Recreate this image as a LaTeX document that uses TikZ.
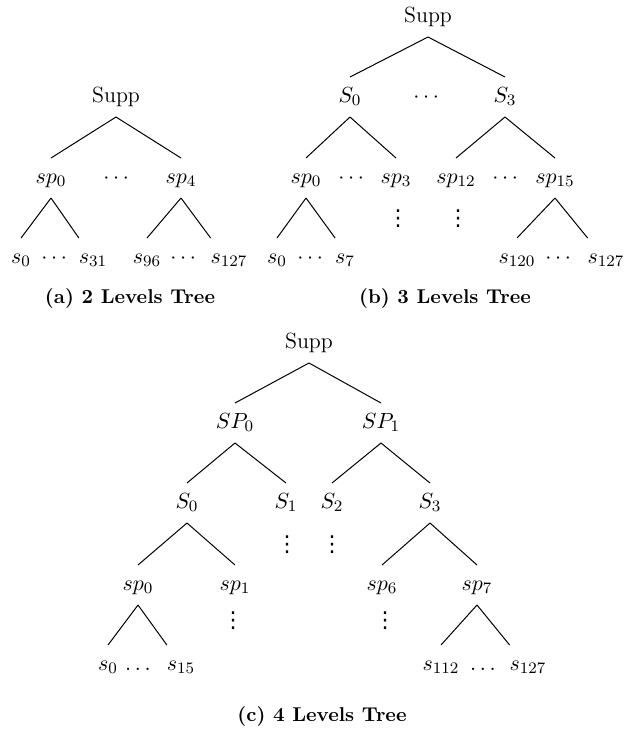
\documentclass[tikz,border=0pt]{standalone}
\usepackage{amsmath}
\usepackage{fontspec}
\usepackage{tikz}

\newfontfamily\symfont{DejaVu Sans}

\begin{document}
\begin{tikzpicture}[x=0.5pt,y=-0.5pt,
        every node/.style={font=\fontsize{11}{13}\selectfont},
        tn/.style={inner xsep=0pt,inner ysep=4.5pt,outer sep=0pt,text height=8pt,text depth=3pt},
        vd/.style={inner sep=0pt,font=\symfont\fontsize{11}{11}\selectfont},
        caption/.style={font=\fontsize{10}{12}\selectfont\bfseries},
        every edge/.style={draw,line width=0.5pt}]
    \useasboundingbox (0,0) rectangle (634,730);

    % (a) two levels
    \node[tn] (suppA)  at (116,97)  {Supp};
    \node[tn] (spA0)   at (51,178)  {$sp_0$};
    \node[tn] (dotsA1) at (118,178) {$\cdots$};
    \node[tn] (spA4)   at (181,178) {$sp_4$};
    \node[tn] (sA0)    at (21,258)  {$s_0$};
    \node[tn] (dotsA2) at (56,258)  {$\cdots$};
    \node[tn] (sA31)   at (93,258)  {$s_{31}$};
    \node[tn] (sA96)   at (147,258) {$s_{96}$};
    \node[tn] (dotsA3) at (185,258) {$\cdots$};
    \node[tn] (sA127)  at (229,258) {$s_{127}$};
    \node[caption] (capA) at (130,298) {(a) 2 Levels Tree};

    \path (suppA.south) edge (spA0.north) edge (spA4.north)
          (spA0.south)  edge (sA0.north)  edge (sA31.north west)
          (spA4.south)  edge (sA96.north) edge (sA127.north west);

    % (b) three levels
    \node[tn] (suppB)   at (428,17)  {Supp};
    \node[tn] (SB0)     at (350,97)  {$S_0$};
    \node[tn] (dotsB1)  at (428,97)  {$\cdots$};
    \node[tn] (SB3)     at (505,97)  {$S_3$};
    \node[tn] (spB0)    at (306,178) {$sp_0$};
    \node[tn] (dotsB2)  at (353,178) {$\cdots$};
    \node[tn] (spB3)    at (396,178) {$sp_3$};
    \node[tn] (spB12)   at (456,178) {$sp_{12}$};
    \node[tn] (dotsB3)  at (507,178) {$\cdots$};
    \node[tn] (spB15)   at (555,178) {$sp_{15}$};
    \node[vd] (vdB3)    at (398,219) {⋮};
    \node[vd] (vdB12)   at (458,219) {⋮};
    \node[tn] (sB0)     at (277,258) {$s_0$};
    \node[tn] (dotsB4)  at (312,258) {$\cdots$};
    \node[tn] (sB7)     at (345,258) {$s_7$};
    \node[tn] (sB120)   at (517,258) {$s_{120}$};
    \node[tn] (dotsB5)  at (560,258) {$\cdots$};
    \node[tn] (sB127)   at (606,258) {$s_{127}$};
    \node[caption] (capB) at (445,298) {(b) 3 Levels Tree};

    \path (suppB.south) edge (SB0.north)   edge (SB3.north)
          (SB0.south)   edge (spB0.north)  edge (spB3.north)
          (SB3.south)   edge (spB12.north) edge (spB15.north)
          (spB0.south)  edge (sB0.north)   edge (sB7.north west)
          (spB15.south) edge (sB120.north) edge (sB127.north west);

    % (c) four levels
    \node[tn] (suppC)  at (309,343) {Supp};
    \node[tn] (SPC0)   at (235,423) {$SP_0$};
    \node[tn] (SPC1)   at (381,423) {$SP_1$};
    \node[tn] (SC0)    at (187,503) {$S_0$};
    \node[tn] (SC1)    at (286,503) {$S_1$};
    \node[tn] (SC2)    at (332,503) {$S_2$};
    \node[tn] (SC3)    at (430,503) {$S_3$};
    \node[vd] (vdC1)   at (287,545) {⋮};
    \node[vd] (vdC2)   at (332,545) {⋮};
    \node[tn] (spC0)   at (138,585) {$sp_0$};
    \node[tn] (spC1)   at (235,585) {$sp_1$};
    \node[tn] (spC6)   at (382,585) {$sp_6$};
    \node[tn] (spC7)   at (477,585) {$sp_7$};
    \node[vd] (vdC3)   at (233,621) {⋮};
    \node[vd] (vdC4)   at (385,621) {⋮};
    \node[tn] (sC0)    at (108,665) {$s_0$};
    \node[tn] (dotsC1) at (138,665) {$\ldots$};
    \node[tn] (sC15)   at (181,665) {$s_{15}$};
    \node[tn] (sC112)  at (441,665) {$s_{112}$};
    \node[tn] (dotsC2) at (483,665) {$\ldots$};
    \node[tn] (sC127)  at (528,665) {$s_{127}$};
    \node[caption] (capC) at (322,716) {(c) 4 Levels Tree};

    \path (suppC.south) edge (SPC0.north)  edge (SPC1.north)
          (SPC0.south)  edge (SC0.north)   edge (SC1.north)
          (SPC1.south)  edge (SC2.north)   edge (SC3.north)
          (SC0.south)   edge (spC0.north)  edge (spC1.north)
          (SC3.south)   edge (spC6.north)  edge (spC7.north)
          (spC0.south)  edge (sC0.north)   edge (sC15.north west)
          (spC7.south)  edge (sC112.north) edge (sC127.north west);
\end{tikzpicture}
\end{document}
